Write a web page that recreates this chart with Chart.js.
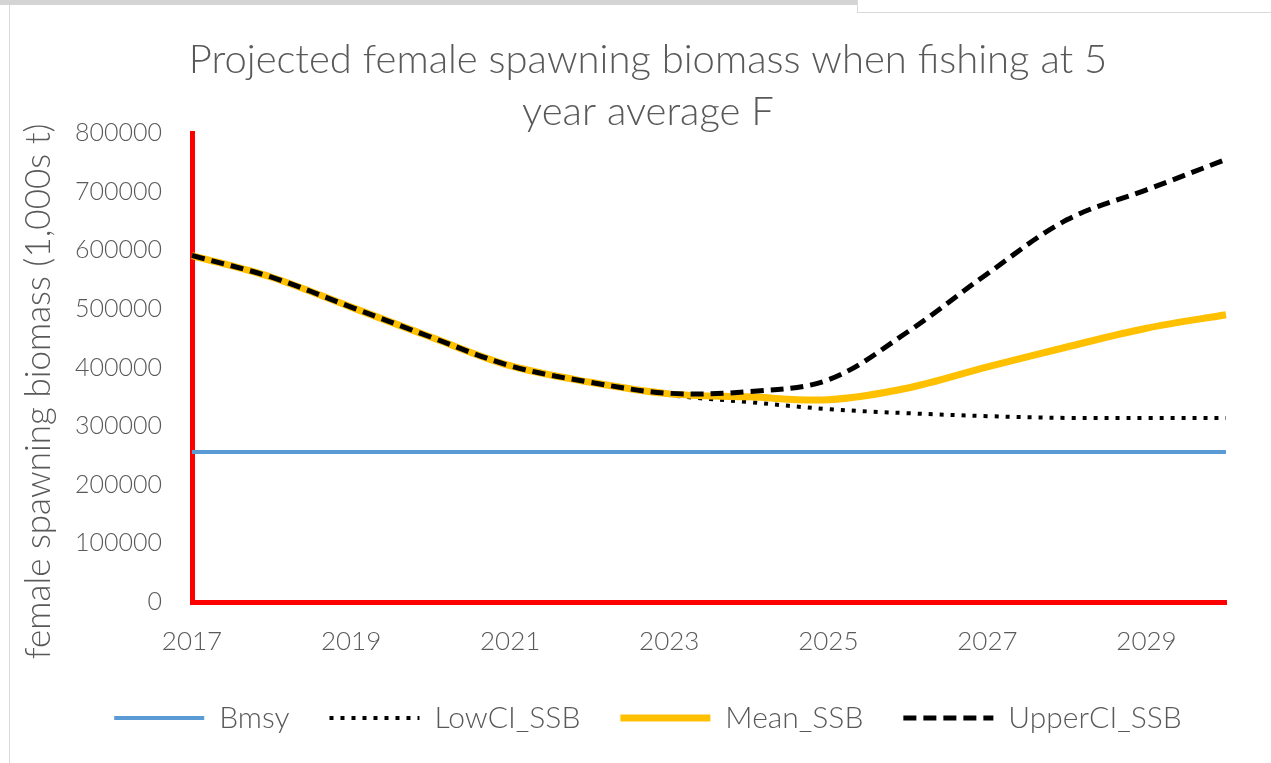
<!DOCTYPE html>
<html>
<head>
<meta charset="utf-8">
<script src="https://cdn.jsdelivr.net/npm/chart.js@4.4.1/dist/chart.umd.min.js"></script>
<style>
  html, body { margin: 0; padding: 0; background: #fff; }
  #wrap { position: relative; width: 1271px; height: 763px; overflow: hidden; }
  #topbar { position: absolute; left: 0; top: 0; width: 857px; height: 5px; background: #d4d4d4; }
  #topline { position: absolute; left: 857px; top: 0; width: 414px; height: 12px; border-left: 1px solid #d9d9d9; border-bottom: 1px solid #d9d9d9; }
  #leftline { position: absolute; left: 9px; top: 5px; width: 1px; height: 758px; background: #d9d9d9; }
  #cv { position: absolute; left: 0; top: 0; }
</style>
</head>
<body>
<div id="wrap">
  <div id="topbar"></div>
  <div id="topline"></div>
  <div id="leftline"></div>
  <canvas id="cv" width="1271" height="763"></canvas>
</div>
<script>
// Datos (miles de toneladas)
const years = ["2017","2018","2019","2020","2021","2022","2023","2024","2025","2026","2027","2028","2029","2030"];
const bmsy = [256000,256000,256000,256000,256000,256000,256000,256000,256000,256000,256000,256000,256000,256000];
const lowCI = [591000,554000,503000,452000,403000,375000,353000,341000,329000,322000,317000,314000,314000,314000];
const meanSSB = [591000,554000,503000,452000,403000,375000,355000,350000,345000,365000,401000,435000,467000,490000];
const upperCI = [591000,554000,503000,452000,403000,375000,356000,359000,379000,461000,560000,652000,703000,755000];

const gris = "#595959";
const fuente = "Lato";

// Leyenda con el mismo trazo (punteado / guiones) que cada serie
function etiquetasLeyenda(chart) {
  return chart.data.datasets.map((ds, i) => ({
    text: ds.label,
    fillStyle: ds.borderColor,
    strokeStyle: ds.borderColor,
    lineWidth: ds.borderWidth,
    lineDash: ds.borderDash || [],
    lineCap: "butt",
    pointStyle: "line",
    hidden: false,
    datasetIndex: i,
    fontColor: gris
  }));
}

const config = {
  type: "line",
  data: {
    labels: years,
    datasets: [
      { label: "Bmsy", data: bmsy, order: 3, borderColor: "#5B9BD5", borderWidth: 4, pointRadius: 0, tension: 0 },
      { label: "LowCI_SSB", data: lowCI, order: 2, borderColor: "#000000", borderWidth: 4, borderDash: [4, 7], pointRadius: 0, tension: 0.35 },
      { label: "Mean_SSB", data: meanSSB, order: 1, borderColor: "#FFC000", borderWidth: 7, pointRadius: 0, tension: 0.35 },
      { label: "UpperCI_SSB", data: upperCI, order: 0, borderColor: "#000000", borderWidth: 5, borderDash: [13, 7], pointRadius: 0, tension: 0.35 }
    ]
  },
  options: {
    responsive: false,
    animation: false,
    layout: { padding: { left: 70, right: 45, top: 0, bottom: 20 } },
    plugins: {
      title: {
        display: true,
        text: ["Projected female spawning biomass when fishing at 5", "year average F"],
        color: gris,
        font: { family: fuente, size: 40, weight: "300", lineHeight: 1.3 },
        padding: { top: 34, bottom: -5 }
      },
      legend: {
        position: "bottom",
        labels: {
          usePointStyle: true,
          pointStyleWidth: 90,
          boxHeight: 20,
          padding: 40,
          color: gris,
          font: { family: fuente, size: 30, weight: "300" },
          generateLabels: etiquetasLeyenda
        }
      },
      tooltip: { enabled: false }
    },
    scales: {
      x: {
        offset: false,
        grid: { display: false, drawTicks: false },
        border: { color: "#FF0000", width: 5 },
        afterFit: function (scale) { scale.height = 61; },
        ticks: {
          autoSkip: false,
          maxRotation: 0,
          padding: 24,
          color: gris,
          font: { family: fuente, size: 26, weight: "300" },
          callback: function (val, i) { return i % 2 === 0 ? years[i] : ""; }
        }
      },
      y: {
        min: 0,
        max: 800000,
        grid: { display: false, drawTicks: false },
        border: { color: "#FF0000", width: 5 },
        afterFit: function (scale) { scale.width = 122; },
        ticks: {
          stepSize: 100000,
          padding: 30,
          color: gris,
          font: { family: fuente, size: 25, weight: "300" },
          callback: function (v) { return String(v); }
        },
        title: {
          display: true,
          text: "female spawning biomass (1,000s t)     ",
          color: gris,
          font: { family: fuente, size: 35, weight: "300" },
          padding: { top: -52, bottom: 0 }
        }
      }
    }
  }
};

new Chart(document.getElementById("cv"), config);
</script>
</body>
</html>
